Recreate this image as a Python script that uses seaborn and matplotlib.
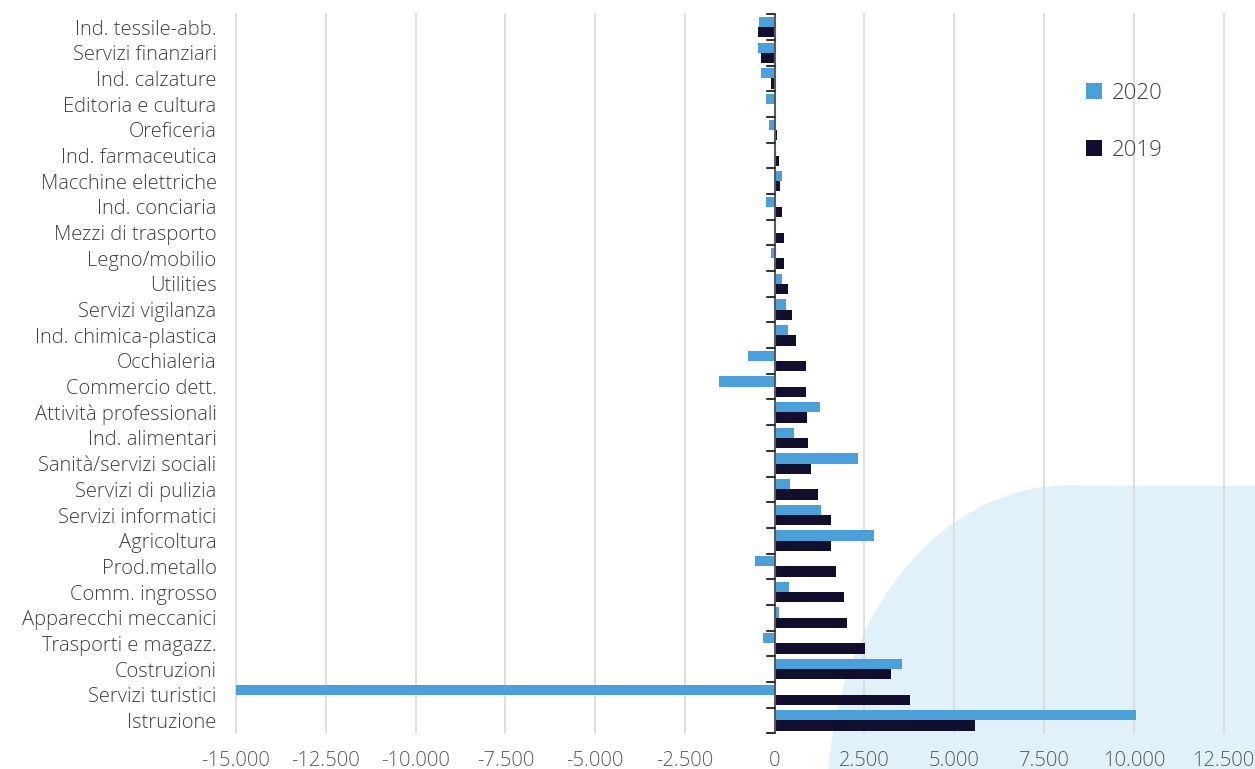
import numpy as np
import pandas as pd
import matplotlib
matplotlib.use("Agg")
import matplotlib.pyplot as plt
import seaborn as sns
from matplotlib.patches import Ellipse, Rectangle
from matplotlib.ticker import FuncFormatter

# data, top to bottom
categories = ["Ind. tessile-abb.", "Servizi finanziari", "Ind. calzature", "Editoria e cultura",
              "Oreficeria", "Ind. farmaceutica", "Macchine elettriche", "Ind. conciaria",
              "Mezzi di trasporto", "Legno/mobilio", "Utilities", "Servizi vigilanza",
              "Ind. chimica-plastica", "Occhialeria", "Commercio dett.", "Attività professionali",
              "Ind. alimentari", "Sanità/servizi sociali", "Servizi di pulizia", "Servizi informatici",
              "Agricoltura", "Prod.metallo", "Comm. ingrosso", "Apparecchi meccanici",
              "Trasporti e magazz.", "Costruzioni", "Servizi turistici", "Istruzione"]
values_2020 = [-430, -450, -385, -240, -150, 50, 210, -230, 10, -110, 200, 320, 360, -730,
               -1540, 1260, 530, 2330, 430, 1300, 2760, -560, 400, 120, -320, 3540, -15000, 10060]
values_2019 = [-460, -390, -110, 0, 60, 130, 140, 210, 260, 270, 360, 490, 600, 870,
               880, 900, 920, 1020, 1220, 1560, 1580, 1710, 1940, 2010, 2530, 3250, 3780, 5570]
years = ["2020", "2019"]
x_ticks = list(range(-15000, 12501, 2500))

colors = {"2020": "#4BA0DA", "2019": "#110F2D"}

df = pd.concat([
    pd.DataFrame({"category": categories, "value": values_2020, "year": "2020"}),
    pd.DataFrame({"category": categories, "value": values_2019, "year": "2019"}),
])

sns.set_style("white")
plt.rcParams["font.family"] = ["Open Sans", "DejaVu Sans"]
plt.rcParams["font.weight"] = "light"

fig = plt.figure(figsize=(12.55, 7.69), dpi=100)
W, H = 1255, 769

# light blue background shape (bottom right), behind the axes
bg = "#E1F1FA"
fig.patches.append(Ellipse((1068 / W, 1 - 800 / H), 480 / W, 628 / H,
                           transform=fig.transFigure, color=bg, zorder=-2))
fig.patches.append(Rectangle((1068 / W, 0), (W - 1068) / W, (769 - 486) / H,
                             transform=fig.transFigure, color=bg, zorder=-2))

ax = fig.add_axes([236 / W, 1 - 733.3 / H, (1223.5 - 236) / W, (733.3 - 14.3) / H])
ax.set_zorder(1)
ax.patch.set_alpha(0)

sns.barplot(data=df, x="value", y="category", hue="year", hue_order=years,
            palette=colors, orient="h", width=0.8, linewidth=0, saturation=1, ax=ax)

ax.set_xlim(-15000, 12500)
ax.set_ylim(len(categories) - 0.5, -0.5)
ax.set_xticks(x_ticks)
ax.xaxis.set_major_formatter(FuncFormatter(lambda v, p: f"{int(v):,}".replace(",", ".")))
ax.grid(axis="x", color="#D9D9D9", linewidth=1.2, clip_on=False)
ax.set_axisbelow(True)
for s in ax.spines.values():
    s.set_visible(False)

ax.tick_params(axis="y", length=0, pad=14, labelsize=14.5, labelcolor="#404040")
ax.tick_params(axis="x", length=0, pad=13, labelsize=14.5, labelcolor="#595959")
ax.set_xlabel("")
ax.set_ylabel("")

# vertical axis at zero with category boundary ticks
ax.axvline(0, color="#595959", linewidth=1.5, zorder=3)
for b in np.arange(-0.5, len(categories) + 0.5, 1):
    ax.plot([-200, 0], [b, b], color="#333333", linewidth=1.5, zorder=3, clip_on=False)

handles, labels = ax.get_legend_handles_labels()
ax.legend(handles, labels, loc="upper left", bbox_to_anchor=(1066 / W, 1 - 63 / H),
          bbox_transform=fig.transFigure, frameon=False, fontsize=16,
          handlelength=0.7, handleheight=0.7, handletextpad=0.45, labelspacing=1.6,
          labelcolor="#404040")

fig.savefig("out.png", dpi=100)
